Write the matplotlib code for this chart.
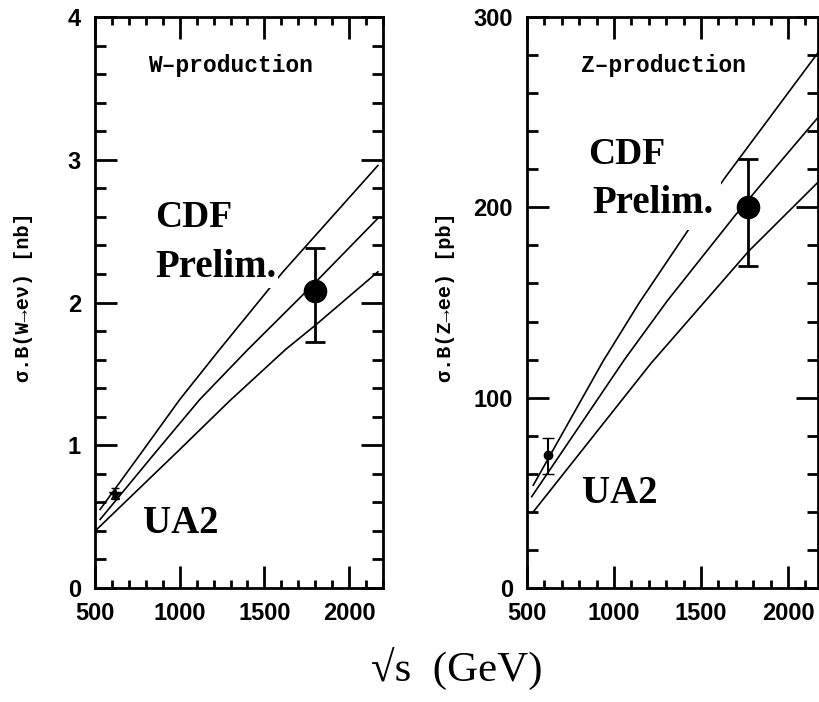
import matplotlib.pyplot as plt
from matplotlib.ticker import MultipleLocator

# W production, sigma.B in nb, three theory curves
w_x_hi = [530, 775, 1000, 1235, 1606, 2170]
w_y_hi = [0.55, 0.95, 1.32, 1.67, 2.21, 2.96]
w_x_mid = [530, 850, 1118, 1402, 1800, 2170]
w_y_mid = [0.48, 0.94, 1.32, 1.67, 2.14, 2.59]
w_x_lo = [510, 1000, 1294, 1624, 1800, 2170]
w_y_lo = [0.41, 0.97, 1.31, 1.67, 1.84, 2.215]

# W data points: UA2, CDF
w_pts_x = [620, 1800]
w_pts_y = [0.66, 2.08]
w_err_lo = [0.04, 0.36]
w_err_hi = [0.04, 0.30]

# Z production, sigma.B in pb
z_x_hi = [536, 936, 1146, 1470, 1641, 2170]
z_y_hi = [54, 119, 150, 194, 216, 281]
z_x_mid = [527, 1060, 1307, 1698, 1984, 2170]
z_y_mid = [48, 120, 151, 196, 227, 247]
z_x_lo = [536, 1212, 1517, 1774, 2170]
z_y_lo = [40, 118, 150, 177, 213]

z_pts_x = [620, 1770]
z_pts_y = [70, 200]
z_err_lo = [10, 31]
z_err_hi = [9, 25.5]

W, H = 819, 702
fig = plt.figure(figsize=(W / 100, H / 100), dpi=100)

monofont = ['Liberation Mono', 'DejaVu Sans Mono']
serif = ['Liberation Serif', 'DejaVu Serif']


def setup(ax, ymax, ymaj, ymin):
    for s in ax.spines.values():
        s.set_linewidth(2)
    ax.xaxis.set_major_locator(MultipleLocator(500))
    ax.xaxis.set_minor_locator(MultipleLocator(100))
    ax.yaxis.set_major_locator(MultipleLocator(ymaj))
    ax.yaxis.set_minor_locator(MultipleLocator(ymin))
    ax.tick_params(which='both', direction='in', top=True, right=True, width=2)
    ax.tick_params(which='major', length=16, pad=10)
    ax.tick_params(axis='y', which='minor', length=8)
    ax.tick_params(axis='x', which='minor', length=6)
    for lab in ax.get_xticklabels() + ax.get_yticklabels():
        lab.set_fontfamily('Liberation Sans')
        lab.set_fontweight('bold')
        lab.set_fontsize(17)
    ax.set_ylim(0, ymax)


# left panel
ax1 = fig.add_axes([95 / W, 1 - 588 / H, 288 / W, 571 / H])
ax1.set_xlim(500, 2200)
for xs, ys in [(w_x_hi, w_y_hi), (w_x_mid, w_y_mid), (w_x_lo, w_y_lo)]:
    ax1.plot(xs, ys, color='black', lw=1.2, zorder=2)
ax1.errorbar(w_pts_x[:1], w_pts_y[:1], yerr=[w_err_lo[:1], w_err_hi[:1]],
             fmt='*', ms=9, color='black', capsize=3, elinewidth=1.5, zorder=4)
ax1.errorbar(w_pts_x[1:], w_pts_y[1:], yerr=[w_err_lo[1:], w_err_hi[1:]],
             fmt='o', ms=16, color='black', capsize=7, elinewidth=2, capthick=2, zorder=4)
setup(ax1, 4, 1, 0.2)
ax1.text(0.47, 0.915, 'W–production', transform=ax1.transAxes, ha='center', va='center',
         family=monofont, weight='bold', size=16.5)
ax1.text(854, 2.53, 'CDF', family=serif, weight='bold', size=27, ha='left', va='baseline')
ax1.text(854, 2.18, 'Prelim.', family=serif, weight='bold', size=28, ha='left', va='baseline',
         zorder=3, bbox=dict(boxstyle='square,pad=0.05', fc='white', ec='none'))
ax1.text(783, 0.385, 'UA2', family=serif, weight='bold', size=28, ha='left', va='baseline')
ax1.set_ylabel('σ.B(W→eν) [nb]', family=monofont, weight='bold', size=14.5)
ax1.yaxis.set_label_coords(-0.215, 0.51)

# right panel
ax2 = fig.add_axes([527 / W, 1 - 588 / H, 291 / W, 571 / H])
ax2.set_xlim(500, 2172)
for xs, ys in [(z_x_hi, z_y_hi), (z_x_mid, z_y_mid), (z_x_lo, z_y_lo)]:
    ax2.plot(xs, ys, color='black', lw=1.2, zorder=2)
ax2.errorbar(z_pts_x[:1], z_pts_y[:1], yerr=[z_err_lo[:1], z_err_hi[:1]],
             fmt='o', ms=6, color='black', capsize=4, elinewidth=1.5, zorder=4)
ax2.errorbar(z_pts_x[1:], z_pts_y[1:], yerr=[z_err_lo[1:], z_err_hi[1:]],
             fmt='o', ms=16, color='black', capsize=7, elinewidth=2, capthick=2, zorder=4)
setup(ax2, 300, 100, 20)
ax2.text(0.47, 0.915, 'Z–production', transform=ax2.transAxes, ha='center', va='center',
         family=monofont, weight='bold', size=16.5)
ax2.text(851, 223, 'CDF', family=serif, weight='bold', size=27, ha='left', va='baseline')
ax2.text(874, 197, 'Prelim.', family=serif, weight='bold', size=28, ha='left', va='baseline',
         zorder=3, bbox=dict(boxstyle='square,pad=0.2', fc='white', ec='none'))
ax2.text(816, 44.7, 'UA2', family=serif, weight='bold', size=28, ha='left', va='baseline')
ax2.set_ylabel('σ.B(Z→ee) [pb]', family=monofont, weight='bold', size=14.5)
ax2.yaxis.set_label_coords(-0.249, 0.51)

fig.text(457 / W, 1 - 668 / H, '√s  (GeV)', ha='center', va='center', family=serif, size=31)

fig.savefig('out.png', dpi=100)
